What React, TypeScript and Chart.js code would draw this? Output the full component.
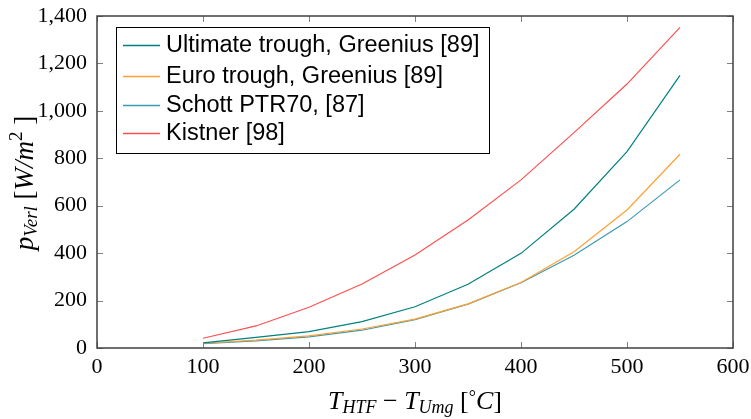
import React, { useEffect, useRef } from "react";
import { Chart, registerables } from "chart.js";

Chart.register(...registerables);

const xValues = [100, 150, 200, 250, 300, 350, 400, 450, 500, 550];
const ultimateTrough = [22, 45, 69, 111, 174, 269, 399, 585, 828, 1150];
const euroTrough = [20, 33, 51, 80, 122, 186, 276, 406, 582, 817];
const schottPTR70 = [18, 30, 47, 75, 120, 185, 275, 391, 533, 709];
const kistner = [41, 93, 172, 270, 392, 540, 709, 908, 1113, 1352];

const seriesLabels = [
  "Ultimate trough, Greenius [89]",
  "Euro trough, Greenius [89]",
  "Schott PTR70, [87]",
  "Kistner [98]",
];
const seriesColors = ["#008080", "#ffa030", "#3a9bb5", "#ff5050"];

const W = 751;
const H = 419;
const PLOT_LEFT = 97;
const PLOT_RIGHT = 733;
const PLOT_TOP = 16;
const PLOT_BOTTOM = 348;

const SERIF = "'Liberation Serif', 'DejaVu Serif', serif";
const SANS = "'Liberation Sans', Arial, sans-serif";

function drawParts(
  ctx: CanvasRenderingContext2D,
  parts: { t: string; italic?: boolean; dy?: number; size: number }[],
  x: number,
  y: number,
  center: boolean
) {
  let total = 0;
  for (const p of parts) {
    ctx.font = `${p.italic ? "italic " : ""}${p.size}px ${SERIF}`;
    total += ctx.measureText(p.t).width;
  }
  let cx = center ? x - total / 2 : x;
  for (const p of parts) {
    ctx.font = `${p.italic ? "italic " : ""}${p.size}px ${SERIF}`;
    ctx.fillText(p.t, cx, y + (p.dy || 0));
    cx += ctx.measureText(p.t).width;
  }
}

const framePlugin = {
  id: "framePlugin",
  afterDraw(chart: any) {
    const ctx: CanvasRenderingContext2D = chart.ctx;
    const { left, right, top, bottom } = chart.chartArea;
    const xs = chart.scales.x;
    const ys = chart.scales.y;
    ctx.save();
    // inner ticks
    ctx.strokeStyle = "#808080";
    ctx.lineWidth = 1;
    const tl = 6;
    ctx.beginPath();
    xs.ticks.forEach((t: any) => {
      const px = Math.round(xs.getPixelForValue(t.value)) + 0.5;
      ctx.moveTo(px, bottom);
      ctx.lineTo(px, bottom - tl);
      ctx.moveTo(px, top);
      ctx.lineTo(px, top + tl);
    });
    ys.ticks.forEach((t: any) => {
      const py = Math.round(ys.getPixelForValue(t.value)) + 0.5;
      ctx.moveTo(left, py);
      ctx.lineTo(left + tl, py);
      ctx.moveTo(right, py);
      ctx.lineTo(right - tl, py);
    });
    ctx.stroke();
    // frame
    ctx.strokeStyle = "#404040";
    ctx.lineWidth = 1.5;
    ctx.strokeRect(left, top, right - left, bottom - top);

    // legend
    const bx = 116, by = 27, bw = 373, bh = 126;
    ctx.fillStyle = "#ffffff";
    ctx.fillRect(bx, by, bw, bh);
    ctx.strokeStyle = "#000000";
    ctx.lineWidth = 1;
    ctx.strokeRect(bx + 0.5, by + 0.5, bw, bh);
    const rows = [45, 76, 105, 133];
    chart.data.datasets.forEach((ds: any, i: number) => {
      const ry = rows[i];
      ctx.strokeStyle = ds.borderColor;
      ctx.lineWidth = 1.3;
      ctx.beginPath();
      ctx.moveTo(123, ry + 0.5);
      ctx.lineTo(160, ry + 0.5);
      ctx.stroke();
      ctx.fillStyle = "#000000";
      ctx.font = `23.5px ${SANS}`;
      ctx.textBaseline = "middle";
      ctx.textAlign = "left";
      ctx.fillText(ds.label, 166, ry + 1);
    });

    // axis titles
    ctx.fillStyle = "#000000";
    ctx.textBaseline = "alphabetic";
    ctx.textAlign = "left";
    drawParts(
      ctx,
      [
        { t: "T", italic: true, size: 26 },
        { t: "HTF", italic: true, size: 18, dy: 4 },
        { t: " \u2212 ", size: 26 },
        { t: "T", italic: true, size: 26 },
        { t: "Umg", italic: true, size: 18, dy: 4 },
        { t: " [", size: 26 },
        { t: "\u00b0", size: 18, dy: -6 },
        { t: "C", italic: true, size: 26 },
        { t: "]", size: 26 },
      ],
      (left + right) / 2,
      409,
      true
    );
    ctx.save();
    ctx.translate(33, 183);
    ctx.rotate(-Math.PI / 2);
    drawParts(
      ctx,
      [
        { t: "p", italic: true, size: 27 },
        { t: "Verl", italic: true, size: 19, dy: 4 },
        { t: " [", size: 27 },
        { t: "W/m", italic: true, size: 27 },
        { t: "2", size: 19, dy: -11 },
        { t: " ]", size: 27 },
      ],
      0,
      0,
      true
    );
    ctx.restore();
    ctx.restore();
  },
};

export default function App() {
  const ref = useRef<HTMLCanvasElement>(null);
  useEffect(() => {
    if (!ref.current) return;
    const datasets = [ultimateTrough, euroTrough, schottPTR70, kistner].map((vals, i) => ({
      label: seriesLabels[i],
      data: xValues.map((x, j) => ({ x, y: vals[j] })),
      borderColor: seriesColors[i],
      backgroundColor: seriesColors[i],
      borderWidth: 1.2,
      pointRadius: 0,
      tension: 0,
      fill: false,
    }));
    const chart = new Chart(ref.current, {
      type: "line",
      data: { datasets },
      plugins: [framePlugin],
      options: {
        animation: false,
        responsive: false,
        devicePixelRatio: 1,
        layout: { padding: { left: 0, top: PLOT_TOP, right: W - PLOT_RIGHT, bottom: 0 } },
        plugins: { legend: { display: false }, tooltip: { enabled: false } },
        scales: {
          x: {
            type: "linear",
            min: 0,
            max: 600,
            grid: { display: false, drawTicks: false },
            border: { display: false },
            ticks: {
              stepSize: 100,
              padding: 6,
              color: "#000",
              font: { family: SERIF, size: 22 },
              maxRotation: 0,
            },
            afterFit: (s: any) => {
              s.height = H - PLOT_BOTTOM;
              s.paddingLeft = 0;
              s.paddingRight = 0;
            },
          },
          y: {
            type: "linear",
            min: 0,
            max: 1400,
            grid: { display: false, drawTicks: false },
            border: { display: false },
            ticks: {
              stepSize: 200,
              padding: 10,
              color: "#000",
              font: { family: SERIF, size: 22 },
              callback: (v: any) => Number(v).toLocaleString("en-US"),
            },
            afterFit: (s: any) => {
              s.width = PLOT_LEFT;
              s.paddingTop = 0;
              s.paddingBottom = 0;
            },
          },
        },
      },
    });
    return () => chart.destroy();
  }, []);
  return (
    <div style={{ position: "fixed", left: 0, top: 0, width: W, height: H, background: "#fff" }}>
      <canvas ref={ref} width={W} height={H} style={{ width: W, height: H, display: "block" }} />
    </div>
  );
}
